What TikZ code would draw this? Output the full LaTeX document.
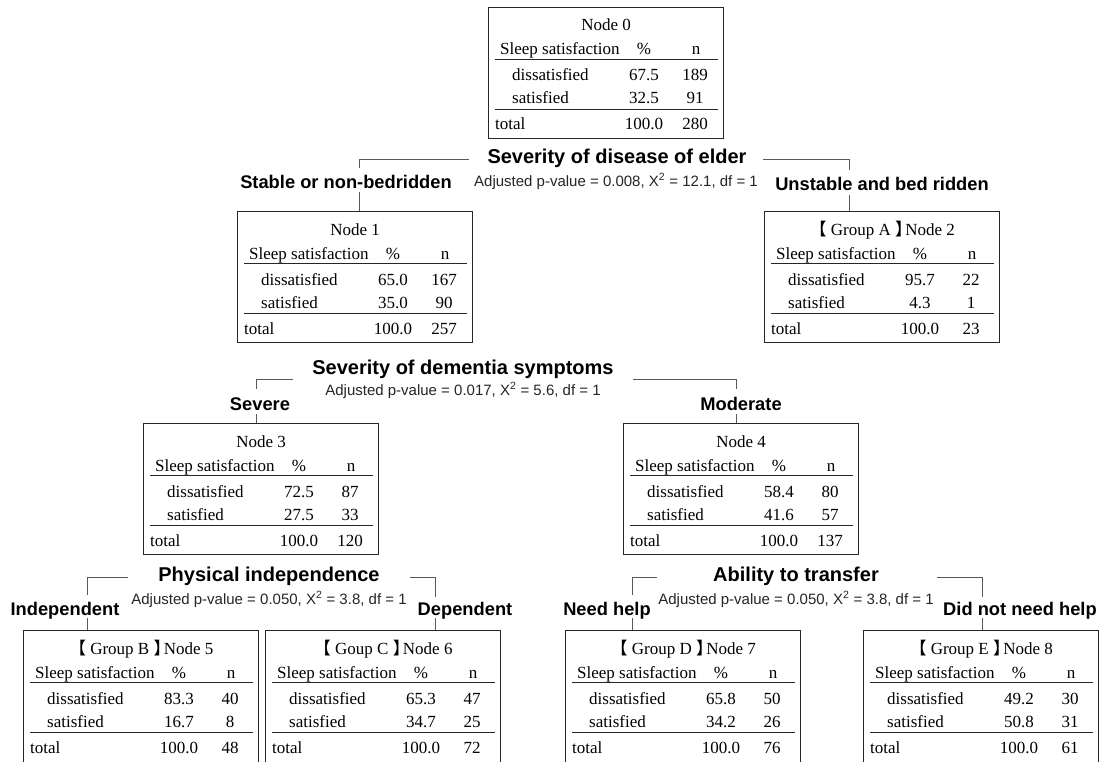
\documentclass[tikz,border=0pt]{standalone}
\usepackage{fontspec}
\setmainfont{Liberation Serif}
\newfontfamily\labfont{Liberation Sans}
\newfontfamily\cjk{Noto Sans CJK SC}
\usetikzlibrary{calc}

\tikzset{
  treebox/.style={draw=black!85, line width=1.4pt, anchor=north west,
    minimum width=235pt, minimum height=131pt, inner sep=0pt},
  tallbox/.style={treebox, minimum height=136pt},
  cell/.style={font=\fontsize{17}{17}\selectfont, inner sep=0pt},
  lcell/.style={cell, anchor=base west},
  ccell/.style={cell, anchor=base},
  tablerule/.style={line width=1.4pt, draw=black!85},
  splitlab/.style={font=\labfont\bfseries\fontsize{20}{20}\selectfont, inner sep=0pt, anchor=base},
  statlab/.style={font=\labfont\fontsize{15}{15}\selectfont, inner sep=0pt, anchor=base, text=black!85},
  branchlab/.style={font=\labfont\bfseries\fontsize{18.3}{18.3}\selectfont, inner sep=0pt, anchor=base},
  link/.style={draw=black!65, line width=1pt},
}

% #1 name, #2 title, #3 d%, #4 dn, #5 s%, #6 sn, #7 total n
\newcommand{\fillnode}[7]{%
  \node[ccell] (#1-ti) at ($(#1.north)+(0,24)$) {#2};
  \node[lcell] (#1-hd) at ($(#1.north west)+(12,48)$) {Sleep satisfaction};
  \node[ccell] (#1-hp) at ($(#1.north west)+(156,48)$) {\%};
  \node[ccell] (#1-hn) at ($(#1.north west)+(208,48)$) {n};
  \draw[tablerule] ($(#1.north west)+(7,52.5)$) -- ($(#1.north west)+(230,52.5)$);
  \node[lcell] (#1-d) at ($(#1.north west)+(24,74)$) {dissatisfied};
  \node[ccell] (#1-dp) at ($(#1.north west)+(156,74)$) {#3};
  \node[ccell] (#1-dn) at ($(#1.north west)+(207,74)$) {#4};
  \node[lcell] (#1-s) at ($(#1.north west)+(24,97)$) {satisfied};
  \node[ccell] (#1-sp) at ($(#1.north west)+(156,97)$) {#5};
  \node[ccell] (#1-sn) at ($(#1.north west)+(207,97)$) {#6};
  \draw[tablerule] ($(#1.north west)+(7,102.5)$) -- ($(#1.north west)+(230,102.5)$);
  \node[lcell] (#1-t) at ($(#1.north west)+(7,123)$) {total};
  \node[ccell] (#1-tp) at ($(#1.north west)+(156,123)$) {100.0};
  \node[ccell] (#1-tn) at ($(#1.north west)+(207,123)$) {#7};
}
\newcommand{\grp}[1]{{\cjk 【} #1 {\cjk 】}\kern-0.4em}

\begin{document}
\begin{tikzpicture}[x=1pt, y=-1pt]
\useasboundingbox (0,0) rectangle (1099,762);
\clip (0,0) rectangle (1099,762);
\fill[white] (0,0) rectangle (1099,762);

% boxes
\node[treebox] (n0) at (488,7) {};
\node[treebox] (n1) at (237,211) {};
\node[treebox] (n2) at (764,211) {};
\node[treebox] (n3) at (143,423) {};
\node[treebox] (n4) at (623,423) {};
\node[tallbox] (n5) at (23,630) {};
\node[tallbox] (n6) at (265,630) {};
\node[tallbox] (n7) at (565,630) {};
\node[tallbox] (n8) at (863,630) {};

\fillnode{n0}{Node 0}{67.5}{189}{32.5}{91}{280}
\fillnode{n1}{Node 1}{65.0}{167}{35.0}{90}{257}
\fillnode{n2}{\grp{Group A}Node 2}{95.7}{22}{4.3}{1}{23}
\fillnode{n3}{Node 3}{72.5}{87}{27.5}{33}{120}
\fillnode{n4}{Node 4}{58.4}{80}{41.6}{57}{137}
\fillnode{n5}{\grp{Group B}Node 5}{83.3}{40}{16.7}{8}{48}
\fillnode{n6}{\grp{Goup C}Node 6}{65.3}{47}{34.7}{25}{72}
\fillnode{n7}{\grp{Group D}Node 7}{65.8}{50}{34.2}{26}{76}
\fillnode{n8}{\grp{Group E}Node 8}{49.2}{30}{50.8}{31}{61}

% split 1
\node[splitlab] (s1) at (617,164) {Severity of disease of elder};
\node[statlab] (p1) at (616,186) {Adjusted p-value = 0.008, X\textsuperscript{2} = 12.1, df = 1};
\node[branchlab] (b1) at (346,189) {Stable or non-bedridden};
\node[branchlab] (b2) at (882,190) {Unstable and bed ridden};
\coordinate (s1l) at (469,160);
\coordinate (s1r) at (763,160);
\coordinate (b1t) at (359,168);
\coordinate (b2t) at (849,170);
\coordinate (b1b) at (359,192);
\coordinate (b2b) at (849,195);
\draw[link] (s1l) -| (b1t);
\draw[link] (s1r) -| (b2t);
\draw[link] (b1b) -- (b1b |- n1.north);
\draw[link] (b2b) -- (b2b |- n2.north);

% split 2
\node[splitlab] (s2) at (463,374) {Severity of dementia symptoms};
\node[statlab] (p2) at (463,395) {Adjusted p-value = 0.017, X\textsuperscript{2} = 5.6, df = 1};
\node[branchlab] (b3) at (260,410) {Severe};
\node[branchlab] (b4) at (741,410) {Moderate};
\coordinate (s2l) at (293,379);
\coordinate (s2r) at (633,379);
\coordinate (b3t) at (256,389);
\coordinate (b4t) at (736,389);
\coordinate (b3b) at (256,414);
\coordinate (b4b) at (736,414);
\draw[link] (s2l) -| (b3t);
\draw[link] (s2r) -| (b4t);
\draw[link] (b3b) -- (b3b |- n3.north);
\draw[link] (b4b) -- (b4b |- n4.north);

% split 3
\node[splitlab] (s3) at (269,581) {Physical independence};
\node[statlab] (p3) at (269,604) {Adjusted p-value = 0.050, X\textsuperscript{2} = 3.8, df = 1};
\node[branchlab] (b5) at (65,615) {Independent};
\node[branchlab] (b6) at (465,615) {Dependent};
\coordinate (s3l) at (128,577);
\coordinate (s3r) at (410,577);
\coordinate (b5t) at (87,595);
\coordinate (b6t) at (435,597);
\coordinate (b5b) at (87,618);
\coordinate (b6b) at (435,618);
\draw[link] (s3l) -| (b5t);
\draw[link] (s3r) -| (b6t);
\draw[link] (b5b) -- (b5b |- n5.north);
\draw[link] (b6b) -- (b6b |- n6.north);

% split 4
\node[splitlab] (s4) at (796,581) {Ability to transfer};
\node[statlab] (p4) at (796,604) {Adjusted p-value = 0.050, X\textsuperscript{2} = 3.8, df = 1};
\node[branchlab] (b7) at (607,615) {Need help};
\node[branchlab, anchor=base west] (b8) at (943,615) {Did not need help};
\coordinate (s4l) at (657,577);
\coordinate (s4r) at (937,577);
\coordinate (b7t) at (632,595);
\coordinate (b8t) at (982,597);
\coordinate (b7b) at (632,618);
\coordinate (b8b) at (982,618);
\draw[link] (s4l) -| (b7t);
\draw[link] (s4r) -| (b8t);
\draw[link] (b7b) -- (b7b |- n7.north);
\draw[link] (b8b) -- (b8b |- n8.north);
\end{tikzpicture}
\end{document}
